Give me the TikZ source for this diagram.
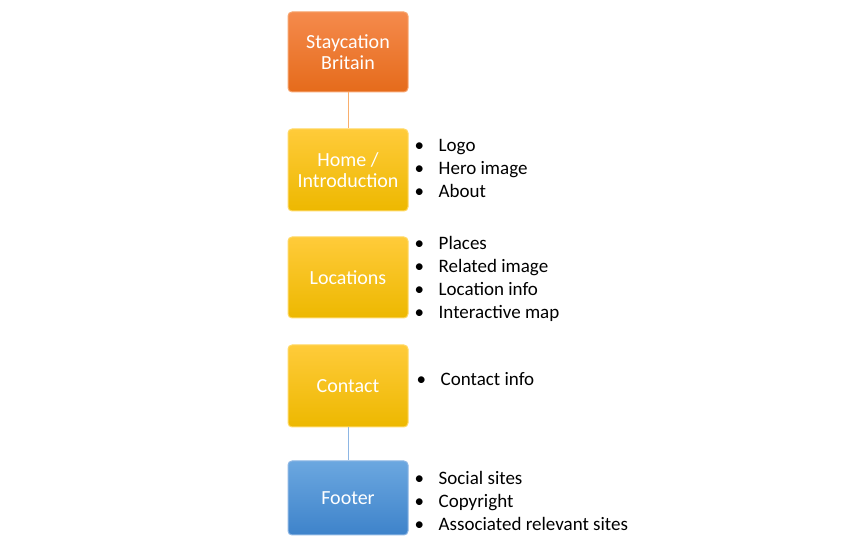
\documentclass[tikz,border=0pt]{standalone}
\usepackage{fontspec}
\setmainfont{Carlito}
\usetikzlibrary{positioning}

\definecolor{orangetop}{HTML}{F58A4C}
\definecolor{orangebot}{HTML}{E56B1B}
\definecolor{orangeline}{HTML}{F7A56F}
\definecolor{yellowtop}{HTML}{FFCB3A}
\definecolor{yellowbot}{HTML}{EDB800}
\definecolor{yellowline}{HTML}{FFD966}
\definecolor{bluetop}{HTML}{6BA7E0}
\definecolor{bluebot}{HTML}{3E83CA}
\definecolor{blueline}{HTML}{8DB6E4}
\newcommand{\bl}[1]{\makebox[24pt][l]{\textbullet}#1}

\begin{document}
\begin{tikzpicture}[
			every node/.append style={font=\fontsize{19}{23}\selectfont}
			,page/.style={rectangle, rounded corners=4pt, minimum width=120pt, align=center, text=white, line width=1pt, inner sep=2pt, font=\fontsize{20}{21}\selectfont}
			,og/.style={page, top color=orangetop, bottom color=orangebot, draw=orangeline}
			,yl/.style={page, top color=yellowtop, bottom color=yellowbot, draw=yellowline}
			,bu/.style={page, top color=bluetop, bottom color=bluebot, draw=blueline}
			,items/.style={align=left, anchor=west, inner sep=0pt, text=black}
		]
			\useasboundingbox (0,0) rectangle (848pt,553pt);
			\node [og, minimum height=80pt] (S) at (348pt,501pt) {Staycation\\Britain};
			\node [yl, minimum height=82pt, below=36pt of S] (H) {Home /\\Introduction};
			\node [yl, minimum height=81pt, below=25pt of H] (L) {Locations};
			\node [yl, minimum height=82pt, below=26pt of L] (C) {Contact};
			\node [bu, minimum height=74pt, below=33pt of C] (F) {Footer};

			\draw [orangeline!80!yellowline, line width=1pt] (S) -- (H);
			\draw [blueline, line width=1pt] (C) -- (F);

			\node [items] (HI) at ([xshift=6pt,yshift=2pt]H.east) {\bl{Logo}\\\bl{Hero image}\\\bl{About}};
			\node [items] (LI) at ([xshift=6pt,yshift=-1pt]L.east) {\bl{Places}\\\bl{Related image}\\\bl{Location info}\\\bl{Interactive map}};
			\node [items] (CI) at ([xshift=8pt,yshift=7pt]C.east) {\bl{Contact info}};
			\node [items] (FI) at ([xshift=6pt,yshift=-3pt]F.east) {\bl{Social sites}\\\bl{Copyright}\\\bl{Associated relevant sites}};
		\end{tikzpicture}
\end{document}
